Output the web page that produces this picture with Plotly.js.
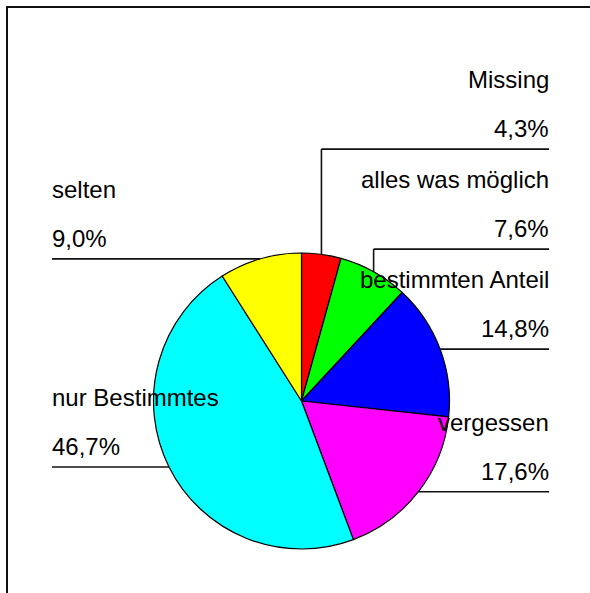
<!DOCTYPE html>
<html>
<head>
<meta charset="utf-8">
<script src="https://cdn.plot.ly/plotly-3.0.1.min.js"></script>
<style>
  html, body { margin: 0; padding: 0; background: #fff; overflow: hidden; width: 590px; height: 593px; }
  #chart { width: 590px; height: 593px; overflow: hidden; }
</style>
</head>
<body>
<div id="chart"></div>
<script>
// ---- data ----
const labels = ['Missing', 'alles was möglich', 'bestimmten Anteil', 'vergessen', 'nur Bestimmtes', 'selten'];
const values = [4.3, 7.6, 14.8, 17.6, 46.7, 9.0];
const colors = ['#FF0000', '#00FF00', '#0000FF', '#FF00FF', '#00FFFF', '#FFFF00'];

// ---- layout geometry (pixels) ----
const W = 590, H = 593;
const CX = 301.5, CY = 401, R = 148;
const RIGHT_X = 549, LEFT_X = 52;
const LABEL_GAP = 100;
const FONT = { family: 'Liberation Sans, Arial, sans-serif', size: 24, color: '#000' };

const px = x => x / W;
const py = y => 1 - y / H;

const total = values.reduce((a, b) => a + b, 0);
const pctText = values.map(v => (v / total * 100).toFixed(1).replace('.', ',') + '%');

// mid-angle edge points (clockwise from 12 o'clock)
let cum = 0;
const pts = values.map((v, i) => {
  const mid = (cum + v / 2) / total * 2 * Math.PI;
  cum += v;
  return { i, x: CX + R * Math.sin(mid), y: CY - R * Math.cos(mid), right: Math.sin(mid) > 0 };
});

// anti-overlap: process each side bottom-up
['right', 'left'].forEach(side => {
  const group = pts.filter(p => (side === 'right') === p.right).sort((a, b) => b.y - a.y);
  let prev = Infinity;
  group.forEach(p => {
    p.ly = Math.min(p.y, prev - LABEL_GAP);
    prev = p.ly;
  });
});

const shapes = [];
const annotations = [];
const lineStyle = { color: '#111', width: 1.6 };

pts.forEach(p => {
  const endX = p.right ? RIGHT_X : LEFT_X;
  if (p.ly < p.y - 0.5) {
    shapes.push({ type: 'line', xref: 'paper', yref: 'paper',
      x0: px(p.x), y0: py(p.y), x1: px(p.x), y1: py(p.ly), line: lineStyle });
  }
  shapes.push({ type: 'line', xref: 'paper', yref: 'paper',
    x0: px(p.x), y0: py(p.ly), x1: px(endX), y1: py(p.ly), line: lineStyle });

  const nameBase = p.ly - 61, valBase = p.ly - 12;
  const off = 8.3;
  const common = { xref: 'paper', yref: 'paper', showarrow: false, font: FONT,
    x: px(endX), xanchor: p.right ? 'right' : 'left', yanchor: 'middle',
    borderpad: 0, borderwidth: 0 };
  annotations.push(Object.assign({}, common, { text: labels[p.i], y: py(nameBase - off) }));
  annotations.push(Object.assign({}, common, { text: pctText[p.i], y: py(valBase - off) }));
});

// outer frame (open on right/bottom, running off the page)
const frame = { color: '#111', width: 2 };
shapes.push({ type: 'line', xref: 'paper', yref: 'paper', x0: px(6), y0: py(7), x1: px(W), y1: py(7), line: frame });
shapes.push({ type: 'line', xref: 'paper', yref: 'paper', x0: px(7), y0: py(6), x1: px(7), y1: py(H), line: frame });

const trace = {
  type: 'pie',
  labels: labels,
  values: values,
  sort: false,
  direction: 'clockwise',
  rotation: 0,
  textinfo: 'none',
  hoverinfo: 'label+percent',
  marker: { colors: colors, line: { color: '#000', width: 1.2 } },
  domain: { x: [px(CX - R), px(CX + R)], y: [py(CY + R), py(CY - R)] },
  showlegend: false
};

const layout = {
  width: W, height: H,
  margin: { l: 0, r: 0, t: 0, b: 0, pad: 0 },
  paper_bgcolor: '#fff',
  plot_bgcolor: '#fff',
  showlegend: false,
  shapes: shapes,
  annotations: annotations,
  font: FONT
};

Plotly.newPlot('chart', [trace], layout, { staticPlot: true, displayModeBar: false });
</script>
</body>
</html>
